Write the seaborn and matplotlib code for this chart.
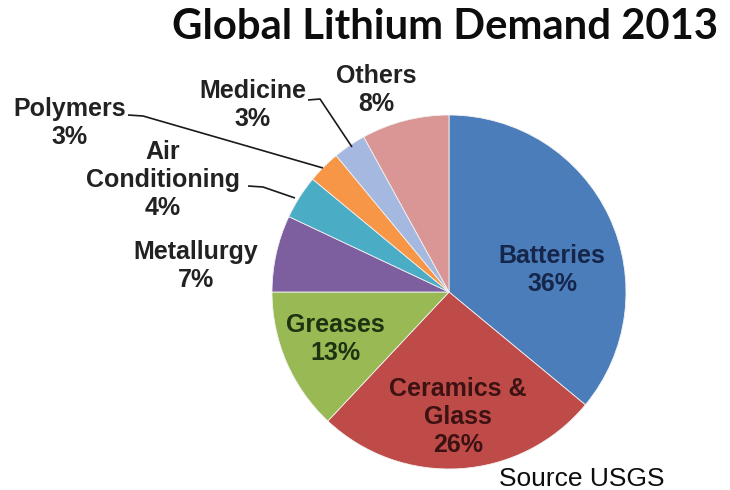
import matplotlib
matplotlib.use("Agg")
import matplotlib.pyplot as plt
import seaborn as sns

categories = ["Batteries", "Ceramics &\nGlass", "Greases", "Metallurgy",
              "Air\nConditioning", "Polymers", "Medicine", "Others"]
shares = [36, 26, 13, 7, 4, 3, 3, 8]
colors = ["#4A7DBA", "#BE4B48", "#98B954", "#7D5FA0",
          "#4BACC6", "#F79646", "#A5B8E0", "#D99694"]
title = "Global Lithium Demand 2013"
source = "Source USGS"

sns.set_theme(style="white")
plt.rcParams['font.family'] = ['Liberation Sans', 'DejaVu Sans']

W, H = 730, 490
fig = plt.figure(figsize=(W / 100, H / 100), dpi=100)
ax = fig.add_axes([0, 0, 1, 1])

def py(y):
    return H - y

palette = sns.color_palette(colors)
cx, cy, r = 449, 292, 177
ax.pie(shares, colors=palette, startangle=90, counterclock=False,
       center=(cx, py(cy)), radius=r, frame=True,
       wedgeprops=dict(edgecolor="#f2f2f2", linewidth=0.6))
ax.set_xlim(0, W)
ax.set_ylim(0, H)
ax.set_aspect("equal")
ax.axis("off")

# label placements: (center x, last-line baseline y, colour) in pixels
label_pos = [(552, 291, "#16264A"), (458, 452, "#3C1212"), (335, 360, "#1C3210"),
             (196, 287, "#222222"), (163, 215, "#222222"), (70, 144, "#222222"),
             (253, 126, "#222222"), (376, 111, "#222222")]
for name, val, (x, y, c) in zip(categories, shares, label_pos):
    ax.text(x, py(y), f"{name}\n{val}%", ha="center", va="baseline",
            fontsize=18, fontweight="bold", color=c, linespacing=1.22)

# leader lines
lk = dict(color="#1a1a1a", lw=1.2, solid_capstyle="butt")
ax.plot([128, 143, 323], [py(115), py(116), py(168)], **lk)
ax.plot([248, 263, 295], [py(186), py(187), py(198)], **lk)
ax.plot([308, 320, 352], [py(100), py(99), py(147)], **lk)

ax.text(445.5, py(39), title, ha="center", va="baseline", fontsize=30.2,
        fontweight="bold", family=["Lato", "DejaVu Sans"], color="#0d0d0d")
ax.text(581.5, py(486), source, ha="center", va="baseline", fontsize=19,
        color="#0d0d0d")

fig.savefig("out.png", dpi=100, facecolor="white")
